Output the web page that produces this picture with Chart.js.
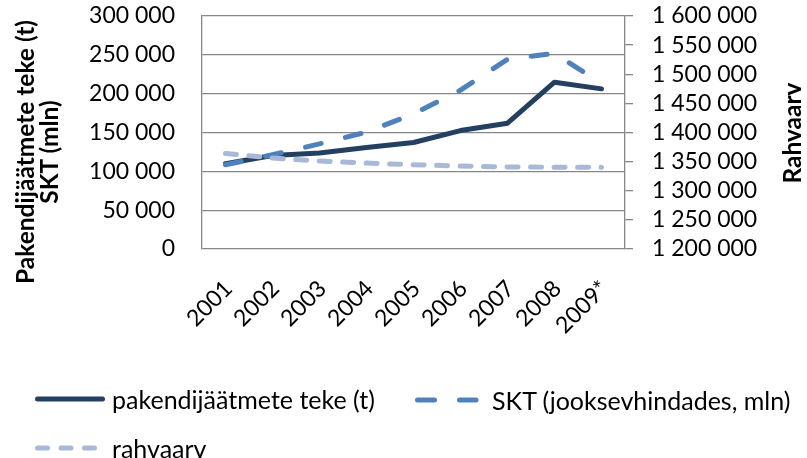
<!DOCTYPE html>
<html><head><meta charset="utf-8">
<script src="https://cdn.jsdelivr.net/npm/chart.js@4.4.0/dist/chart.umd.min.js"></script>
<style>
html,body{margin:0;padding:0;background:#fff;}
#wrap{position:relative;width:807px;height:458px;overflow:hidden;font-family:Lato,sans-serif;color:#000;}
#c{position:absolute;left:0;top:0;}
.ttl{position:absolute;font-weight:bold;font-size:24.5px;text-align:center;white-space:nowrap;transform:rotate(-90deg);width:300px;height:26px;line-height:26px;}
.leg{position:absolute;font-size:25px;white-space:nowrap;line-height:28px;}
#ls{position:absolute;left:0;top:0;}
</style></head>
<body><div id="wrap">
<canvas id="c" width="807" height="458"></canvas>
<div class="ttl" style="left:-125px;top:139px;">Pakendijäätmete teke (t)</div>
<div class="ttl" style="left:-101px;top:139px;">SKT (mln)</div>
<div class="ttl" style="left:642px;top:120px;">Rahvaarv</div>
<svg id="ls" width="807" height="458">
  <line x1="37.5" y1="399" x2="102.5" y2="399" stroke="#243F60" stroke-width="5" stroke-linecap="round"/>
  <line x1="417.5" y1="400" x2="476" y2="400" stroke="#4F81BD" stroke-width="5" stroke-linecap="round" stroke-dasharray="17 25"/>
  <line x1="37.5" y1="448" x2="95" y2="448" stroke="#A7B9D7" stroke-width="5" stroke-linecap="round" stroke-dasharray="10 13.5"/>
</svg>
<div class="leg" style="left:112px;top:385px">pakendijäätmete teke (t)</div>
<div class="leg" style="left:492px;top:386px">SKT (jooksevhindades, mln)</div>
<div class="leg" style="left:112px;top:434px">rahvaarv</div>
</div>
<script>
const categories = ['2001','2002','2003','2004','2005','2006','2007','2008','2009*'];
const pakendiTeke = [109700,120400,123500,130700,137100,152500,162000,214800,206200];
const skt = [108400,121300,135400,150500,174000,204500,244300,252000,213000];
const rahvaarv = [1364101,1356045,1351069,1347510,1344684,1342409,1340935,1340415,1340127];
const leftTickValues = [0,50000,100000,150000,200000,250000,300000];
const rightTickValues = [1200000,1250000,1300000,1350000,1400000,1450000,1500000,1550000,1600000];

const fmt = v => String(v).replace(/\B(?=(\d{3})+(?!\d))/g, ' ');
const tickFont = {family:'Lato', size:23};
const gridCol = '#878787';

new Chart(document.getElementById('c'), {
  type:'line',
  data:{
    labels: categories,
    datasets:[
      {label:'pakendijäätmete teke (t)', data:pakendiTeke, yAxisID:'y', borderColor:'#243F60', borderWidth:5,
       borderCapStyle:'round', borderJoinStyle:'round', pointRadius:0, fill:false, tension:0, order:3},
      {label:'SKT (jooksevhindades, mln)', data:skt, yAxisID:'y', borderColor:'#4F81BD', borderWidth:5,
       borderDash:[16,25], borderCapStyle:'round', borderJoinStyle:'round', pointRadius:0, fill:false, tension:0, order:2},
      {label:'rahvaarv', data:rahvaarv, yAxisID:'y1', borderColor:'#A7B9D7', borderWidth:5,
       borderDash:[11,12.5], borderCapStyle:'round', borderJoinStyle:'round', pointRadius:0, fill:false, tension:0, order:1}
    ]
  },
  options:{
    responsive:false, animation:false, devicePixelRatio:1,
    layout:{padding:{top:16,left:0,right:0,bottom:0}},
    plugins:{legend:{display:false}, tooltip:{enabled:false}},
    scales:{
      x:{
        type:'category', offset:true,
        grid:{display:false, drawTicks:false},
        border:{display:false},
        ticks:{minRotation:45, maxRotation:45, autoSkip:false, padding:26, labelOffset:3, font:tickFont, color:'#000'},
        afterFit: s => { s.height = 209; s.paddingLeft = 0; s.paddingRight = 0; }
      },
      y:{
        position:'left', min:0, max:300000,
        afterBuildTicks: s => { s.ticks = leftTickValues.map(v => ({value:v})); },
        grid:{color:gridCol, lineWidth:1.3, drawTicks:false},
        border:{color:gridCol, width:1.3},
        ticks:{padding:27, autoSkip:false, font:tickFont, color:'#000', callback: v => fmt(v)},
        afterFit: s => { s.width = 202; s.paddingTop = 0; s.paddingBottom = 0; }
      },
      y1:{
        position:'right', min:1200000, max:1600000,
        afterBuildTicks: s => { s.ticks = rightTickValues.map(v => ({value:v})); },
        grid:{drawOnChartArea:false, color:gridCol, lineWidth:1.3, tickLength:8},
        border:{color:gridCol, width:1.3},
        ticks:{padding:19, autoSkip:false, font:tickFont, color:'#000', callback: v => fmt(v)},
        afterFit: s => { s.width = 182; s.paddingTop = 0; s.paddingBottom = 0; }
      }
    }
  }
});
</script>
</body></html>
